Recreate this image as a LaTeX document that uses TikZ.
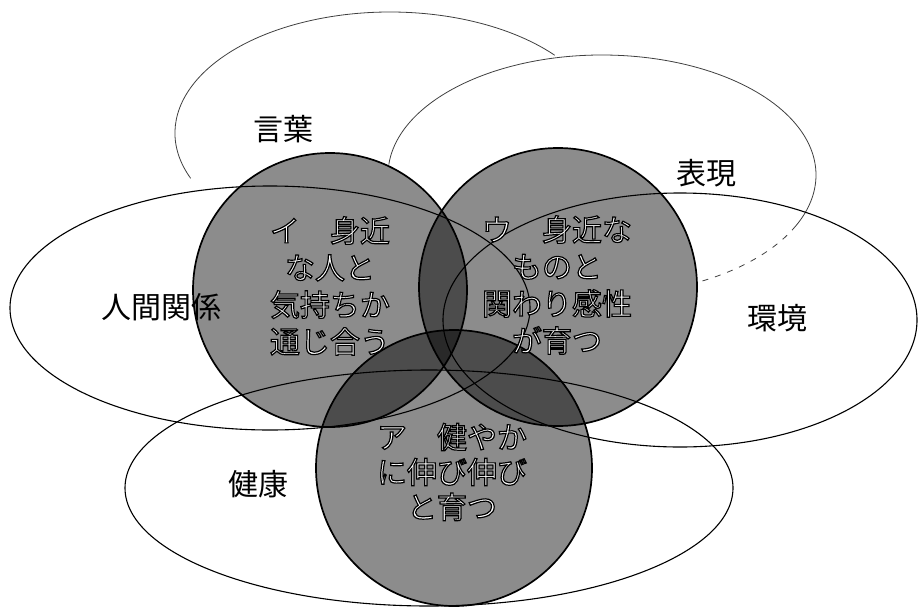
\documentclass[tikz,border=0pt]{standalone}
\usepackage{fontspec}
\setmainfont{Noto Sans CJK JP}
\newfontfamily\outfont[FakeBold=4]{Noto Sans CJK JP}
\newcommand\olt[1]{\special{pdf:bcolor [1] [0]}{\outfont #1}\special{pdf:ecolor}}
\begin{document}
\begin{tikzpicture}[x=1pt,y=-1pt,
  ell/.style={draw=black,line width=1.1pt},
  faint/.style={draw=black!75,line width=0.8pt},
  disk/.style={fill=black,fill opacity=0.45},
  rim/.style={draw=black,line width=1.7pt},
  lab/.style={font=\fontsize{30}{36}\selectfont, inner sep=0pt},
  inlab/.style={font=\fontsize{30}{37}\selectfont, align=center, inner sep=0pt}
]
\fill[white] (0,0) rectangle (918,608);
\useasboundingbox (0,0) rectangle (918,608);

% outer ellipses
\draw[faint] ([shift={(158:215 and 121)}]390,133) arc[start angle=158, end angle=320, x radius=215, y radius=121];
\draw[faint] ([shift={(185:214 and 120)}]602,175) arc[start angle=185, end angle=385, x radius=214, y radius=120];
\draw[faint, dash pattern=on 6pt off 7pt] ([shift={(25:214 and 120)}]602,175) arc[start angle=25, end angle=62, x radius=214, y radius=120];
\draw[ell] (270,308) ellipse[x radius=260, y radius=122];
\draw[ell] (680,320) ellipse[x radius=237, y radius=127];
\draw[ell] (429,488) ellipse[x radius=304, y radius=118];

% circles
\path[disk] (330,290) circle[radius=137];
\path[disk] (558,287) circle[radius=139];
\path[disk] (454,468) circle[radius=138];
\draw[rim] (330,290) circle[radius=137];
\draw[rim] (558,287) circle[radius=139];
\draw[rim] (454,468) circle[radius=138];

% labels
\node[lab] (kotoba) at (283,129) {言葉};
\node[lab] (hyogen) at (706,173) {表現};
\node[lab] (ningen) at (161,307) {人間関係};
\node[lab] (kankyo) at (777,318) {環境};
\node[lab] (kenko) at (258,484) {健康};

\node[inlab] (i) at (330,286) {\olt{イ　身近}\\\olt{な人と}\\\olt{気持ちか}\\\olt{通じ合う}};
\node[inlab] (u) at (557,285) {\olt{ウ　身近な}\\\olt{ものと}\\\olt{関わり感性}\\\olt{が育つ}};
\node[inlab, font=\fontsize{30}{35}\selectfont] (a) at (452,472) {\olt{ア　健やか}\\\olt{に伸び伸び}\\\olt{と育つ}};
\end{tikzpicture}
\end{document}
